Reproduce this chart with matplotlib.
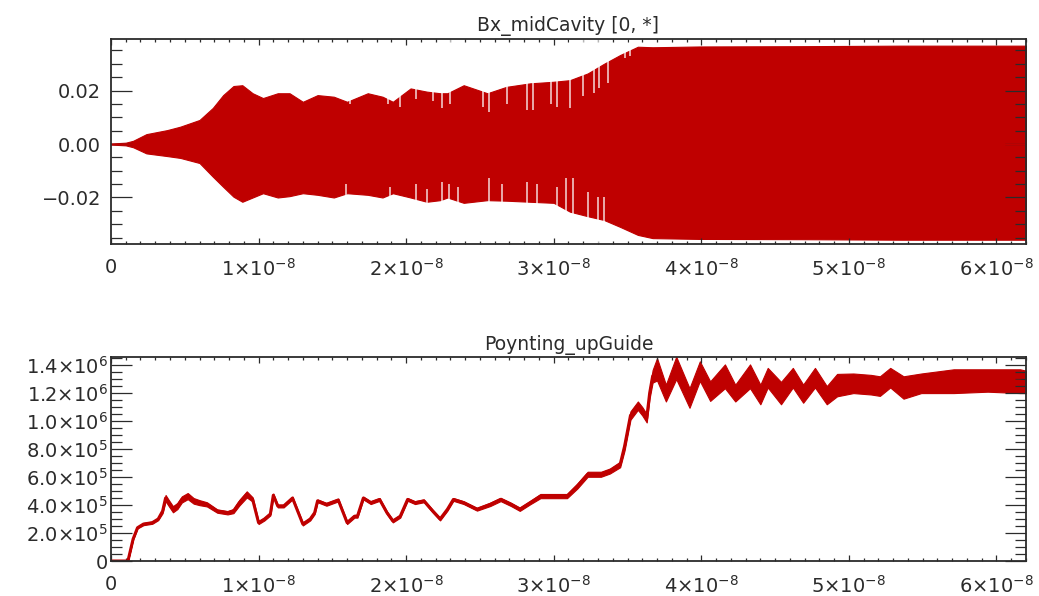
import numpy as np
import matplotlib.pyplot as plt
from matplotlib.ticker import MultipleLocator

# time axis in units of 1e-8 s
xtick_vals = [0, 1, 2, 3, 4, 5, 6]
xtick_labels = ['0'] + ['%d\u00d710$^{-8}$' % k for k in range(1, 7)]

# --- Bx_midCavity [0, *] : oscillation envelope
bx_t = [0.00, 0.10, 0.15, 0.24, 0.38, 0.47, 0.60, 0.69, 0.76, 0.83, 0.89, 0.96, 1.03,
        1.13, 1.21, 1.30, 1.40, 1.51, 1.60, 1.74, 1.84, 1.91, 2.03, 2.14, 2.23, 2.28,
        2.39, 2.55, 2.68, 2.84, 3.00, 3.11, 3.23, 3.34, 3.45, 3.57, 3.67, 3.99, 4.67,
        5.35, 6.20]
bx_hi = [0.0002, 0.0005, 0.0012, 0.0037, 0.0052, 0.0065, 0.0090, 0.0135, 0.0183, 0.0217,
         0.0220, 0.0190, 0.0172, 0.0190, 0.0190, 0.0158, 0.0183, 0.0177, 0.0158, 0.0190,
         0.0177, 0.0158, 0.0208, 0.0196, 0.0190, 0.0190, 0.0220, 0.0190, 0.0214, 0.0227,
         0.0233, 0.0239, 0.0264, 0.0300, 0.0333, 0.0364, 0.0362, 0.0365, 0.0366, 0.0368,
         0.0368]
bx_lo = [-0.0002, -0.0005, -0.0012, -0.0035, -0.0045, -0.0052, -0.0071, -0.0122, -0.0160,
         -0.0197, -0.0216, -0.0200, -0.0184, -0.0200, -0.0195, -0.0184, -0.0190, -0.0200,
         -0.0184, -0.0190, -0.0200, -0.0184, -0.0200, -0.0216, -0.0210, -0.0200, -0.0220,
         -0.0210, -0.0212, -0.0216, -0.0220, -0.0253, -0.0270, -0.0284, -0.0310, -0.0340,
         -0.0352, -0.0355, -0.0356, -0.0358, -0.0358]

# white gaps (aliasing) along the envelope edges
gap_hi_t = [1.62, 1.88, 1.96, 2.07, 2.18, 2.24, 2.30, 2.52, 2.56, 2.68, 2.82, 2.86, 2.98,
            3.02, 3.11, 3.20, 3.27, 3.31, 3.37, 3.48, 3.52]
gap_hi_v = [0.0150, 0.0150, 0.0140, 0.0170, 0.0160, 0.0135, 0.0150, 0.0140, 0.0121, 0.0150,
            0.0127, 0.0127, 0.0150, 0.0140, 0.0135, 0.0180, 0.0190, 0.0210, 0.0228, 0.0320,
            0.0330]
gap_lo_t = [1.59, 1.89, 2.07, 2.14, 2.24, 2.29, 2.35, 2.56, 2.65, 2.82, 2.89, 3.02, 3.08,
            3.13, 3.23, 3.30, 3.34]
gap_lo_v = [-0.0150, -0.0160, -0.0150, -0.0170, -0.0141, -0.0150, -0.0160, -0.0127, -0.0150,
            -0.0141, -0.0150, -0.0160, -0.0127, -0.0127, -0.0180, -0.0197, -0.0200]

# --- Poynting_upGuide : centre of the trace and half width of its noise band
p_t = [0.00, 0.115, 0.15, 0.18, 0.22, 0.28, 0.32, 0.35, 0.37, 0.39, 0.42, 0.45, 0.48,
       0.52, 0.56, 0.60, 0.65, 0.72, 0.79, 0.83, 0.87, 0.92, 0.96, 1.00, 1.04, 1.08,
       1.10, 1.13, 1.17, 1.23, 1.26, 1.30, 1.35, 1.38, 1.40, 1.46, 1.54, 1.60, 1.65,
       1.67, 1.71, 1.76, 1.82, 1.87, 1.91, 1.96, 2.01, 2.06, 2.12, 2.18, 2.23, 2.28,
       2.32, 2.39, 2.48, 2.57, 2.64, 2.71, 2.77, 2.84, 2.91, 3.00, 3.09, 3.16, 3.23,
       3.32, 3.38, 3.45, 3.48, 3.52, 3.57, 3.60, 3.63, 3.65, 3.67, 3.70, 3.76, 3.83,
       3.92, 3.99, 4.06, 4.16, 4.23, 4.33, 4.40, 4.45, 4.54, 4.62, 4.69, 4.77, 4.85,
       4.92, 5.03, 5.15, 5.21, 5.28, 5.37, 5.49, 5.71, 5.94, 6.16, 6.20]
p_mid = [0, 0, 1.57e5, 2.38e5, 2.64e5, 2.74e5, 3.0e5, 3.57e5, 4.5e5, 4.17e5, 3.7e5, 3.93e5,
         4.4e5, 4.64e5, 4.3e5, 4.17e5, 4.05e5, 3.57e5, 3.45e5, 3.57e5, 4.17e5, 4.76e5,
         4.4e5, 2.74e5, 3.0e5, 3.36e5, 4.7e5, 3.93e5, 3.93e5, 4.5e5, 3.7e5, 2.64e5,
         3.0e5, 3.45e5, 4.3e5, 4.05e5, 4.36e5, 2.74e5, 3.2e5, 3.2e5, 4.5e5, 4.17e5,
         4.4e5, 3.45e5, 2.86e5, 3.2e5, 4.4e5, 4.17e5, 4.3e5, 3.57e5, 3.0e5, 3.7e5,
         4.4e5, 4.17e5, 3.7e5, 4.05e5, 4.4e5, 4.05e5, 3.7e5, 4.17e5, 4.64e5, 4.64e5,
         4.64e5, 5.36e5, 6.2e5, 6.2e5, 6.43e5, 6.9e5, 8.2e5, 1.04e6, 1.11e6, 1.07e6,
         1.02e6, 1.2e6, 1.32e6, 1.37e6, 1.20e6, 1.38e6, 1.165e6, 1.357e6, 1.214e6,
         1.32e6, 1.20e6, 1.32e6, 1.19e6, 1.31e6, 1.20e6, 1.31e6, 1.196e6, 1.31e6,
         1.185e6, 1.257e6, 1.27e6, 1.26e6, 1.25e6, 1.31e6, 1.24e6, 1.27e6, 1.285e6,
         1.29e6, 1.285e6, 1.28e6]
p_half = [0, 0, 0.5e4, 0.5e4, 0.8e4, 0.8e4, 0.8e4, 1.5e4, 2.2e4, 2.2e4, 2.2e4, 2.2e4,
          2.2e4, 2.2e4, 2.0e4, 1.8e4, 1.5e4, 1.2e4, 1.2e4, 1.5e4, 2.0e4, 2.2e4,
          1.5e4, 1.0e4, 1.0e4, 1.0e4, 1.2e4, 1.0e4, 1.0e4, 1.0e4, 1.0e4, 1.0e4,
          1.0e4, 1.0e4, 1.0e4, 1.0e4, 1.0e4, 1.0e4, 1.0e4, 1.0e4, 1.0e4, 1.0e4,
          1.0e4, 1.0e4, 1.0e4, 1.0e4, 1.0e4, 1.0e4, 1.0e4, 1.0e4, 1.0e4, 1.0e4,
          1.0e4, 1.0e4, 1.0e4, 1.2e4, 1.2e4, 1.2e4, 1.2e4, 1.2e4, 1.5e4, 1.5e4,
          1.5e4, 1.8e4, 1.8e4, 1.8e4, 1.8e4, 2.0e4, 3.0e4, 3.0e4, 3.0e4, 3.0e4,
          3.0e4, 3.5e4, 4.5e4, 8.0e4, 6.0e4, 8.0e4, 7.0e4, 7.0e4, 7.0e4,
          8.5e4, 6.0e4, 8.5e4, 7.0e4, 7.0e4, 8.0e4, 7.0e4, 6.5e4, 7.0e4,
          6.5e4, 8.0e4, 7.0e4, 7.0e4, 7.0e4, 7.0e4, 8.0e4, 7.0e4, 8.5e4,
          8.0e4, 8.5e4, 8.0e4]

p_ytick_vals = [0, 2e5, 4e5, 6e5, 8e5, 1.0e6, 1.2e6, 1.4e6]
p_ytick_labels = ['0', '2.0\u00d710$^{5}$', '4.0\u00d710$^{5}$', '6.0\u00d710$^{5}$',
                  '8.0\u00d710$^{5}$', '1.0\u00d710$^{6}$', '1.2\u00d710$^{6}$',
                  '1.4\u00d710$^{6}$']
bx_ytick_vals = [-0.02, 0.0, 0.02]
bx_ytick_labels = ['\u22120.02', '0.00', '0.02']

RED = '#bf0000'
INK = '#2b2b2b'
T = 1e-8


def idl_axes(ax, ymin, ypad):
    for s in ax.spines.values():
        s.set_color(INK)
        s.set_linewidth(1.3)
    ax.set_xlim(0, 6.2 * T)
    ax.set_xticks(np.array(xtick_vals) * T, xtick_labels)
    ax.xaxis.set_minor_locator(MultipleLocator(0.1 * T))
    ax.yaxis.set_minor_locator(MultipleLocator(ymin))
    ax.tick_params(which='both', direction='in', top=True, right=True,
                   colors=INK, labelcolor=INK, labelsize=14, width=0.9)
    ax.tick_params(axis='x', which='major', length=4.5, pad=10)
    ax.tick_params(axis='x', which='minor', length=2.5)
    ax.tick_params(axis='y', which='major', length=15, pad=ypad)
    ax.tick_params(axis='y', which='minor', length=8)


fig = plt.figure(figsize=(10.39, 5.96), dpi=100)
ax1 = fig.add_axes([0.1068, 0.5906, 0.8807, 0.344])
ax2 = fig.add_axes([0.1068, 0.0587, 0.8807, 0.3428])

# top panel
t1 = np.array(bx_t) * T
ax1.fill_between(t1, bx_lo, bx_hi, color=RED, edgecolor=RED, lw=0.8)
ax1.plot(t1, np.zeros_like(t1), color=RED, lw=1.0)
ax1.vlines(np.array(gap_hi_t) * T, gap_hi_v, 0.04, colors='white', lw=1.1, alpha=0.85)
ax1.vlines(np.array(gap_lo_t) * T, -0.04, gap_lo_v, colors='white', lw=1.1, alpha=0.85)
ax1.set_ylim(-0.0374, 0.0393)
ax1.set_yticks(bx_ytick_vals, bx_ytick_labels)
idl_axes(ax1, 0.005, 7)
ax1.set_title('Bx_midCavity [0, *]', fontsize=13.5, color=INK, pad=6)

# bottom panel
t2 = np.array(p_t) * T
mid = np.array(p_mid)
half = np.array(p_half)
ax2.fill_between(t2, mid - half, mid + half, color=RED, edgecolor=RED, lw=0.8)
ax2.plot(t2, mid, color=RED, lw=2.2)
ax2.set_ylim(0, 1.46e6)
ax2.set_yticks(p_ytick_vals, p_ytick_labels)
idl_axes(ax2, 5e4, 2)
ax2.set_title('Poynting_upGuide', fontsize=13.5, color=INK, pad=5)

plt.savefig('out.png', dpi=100)
